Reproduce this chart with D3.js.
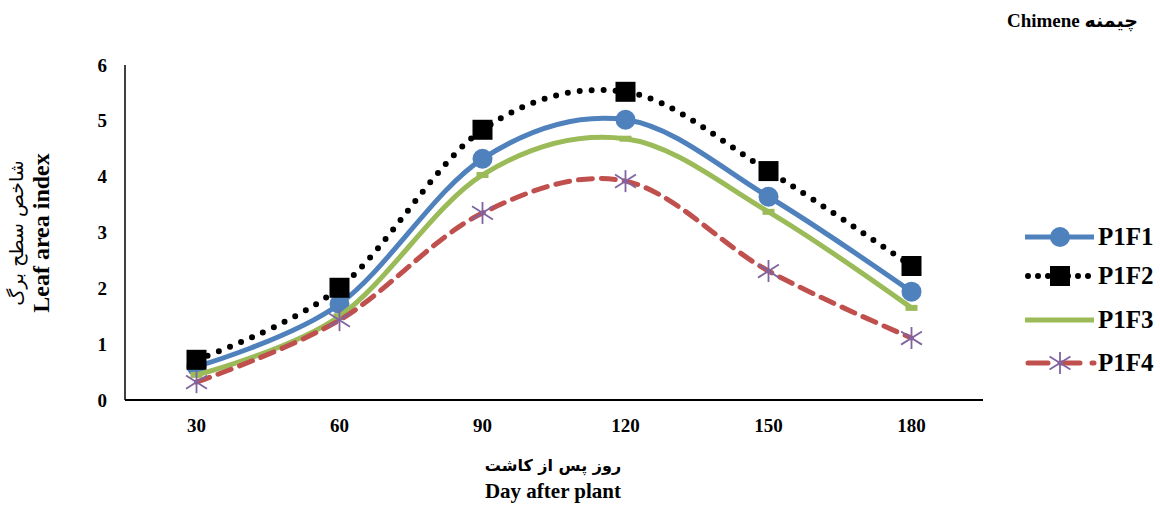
<!DOCTYPE html>
<html>
<head>
<meta charset="utf-8">
<script src="https://cdn.jsdelivr.net/npm/d3@7"></script>
<style>
  body { margin: 0; background: #fff; }
  text { font-family: "Liberation Serif", "DejaVu Sans", serif; font-weight: bold; fill: #000; }
</style>
</head>
<body>
<svg id="chart" width="1160" height="505"></svg>
<script>
// data
const days = [30, 60, 90, 120, 150, 180];
const yTicks = [0, 1, 2, 3, 4, 5, 6];
const p1f1 = [0.60, 1.72, 4.32, 5.02, 3.64, 1.94];
const p1f2 = [0.72, 2.01, 4.84, 5.52, 4.10, 2.40];
const p1f3 = [0.45, 1.50, 4.03, 4.68, 3.37, 1.65];
const p1f4 = [0.32, 1.43, 3.35, 3.92, 2.31, 1.11];
const seriesNames = ["P1F1", "P1F2", "P1F3", "P1F4"];

const marginX = 125;
const plotTop = 65, plotBottom = 400, plotRight = 983;

const svg = d3.select("#chart");

const x = d3.scaleBand().domain(days).range([marginX, plotRight]);
const y = d3.scaleLinear().domain([0, 6]).range([plotBottom, plotTop]);

const series = [
    { name: seriesNames[0], values: p1f1, color: "#4F81BD", width: 5, dash: null, cap: "butt", marker: "circle" },
    { name: seriesNames[1], values: p1f2, color: "#000", width: 6, dash: "0 12", cap: "round", marker: "square" },
    { name: seriesNames[2], values: p1f3, color: "#9BBB59", width: 5, dash: null, cap: "butt", marker: "dash" },
    { name: seriesNames[3], values: p1f4, color: "#C0504D", width: 5, dash: "14 9", cap: "round", marker: "star" }
];

// axes: plain lines, no ticks
svg.append("line")
    .attr("x1", marginX).attr("x2", marginX)
    .attr("y1", plotTop).attr("y2", plotBottom)
    .attr("stroke", "#000").attr("stroke-width", 1.5);
svg.append("line")
    .attr("x1", marginX).attr("x2", plotRight)
    .attr("y1", plotBottom).attr("y2", plotBottom)
    .attr("stroke", "#000").attr("stroke-width", 2);

svg.selectAll("text.ytick").data(yTicks).enter().append("text")
    .attr("class", "ytick")
    .attr("x", 107)
    .attr("y", d => y(d) + 6.5)
    .attr("text-anchor", "end")
    .style("font-size", "19px")
    .text(d => d);

svg.selectAll("text.xtick").data(days).enter().append("text")
    .attr("class", "xtick")
    .attr("x", d => x(d) + x.bandwidth() / 2)
    .attr("y", 432)
    .attr("text-anchor", "middle")
    .style("font-size", "19px")
    .text(d => d);

const line = d3.line()
    .x((d, i) => x(days[i]) + x.bandwidth() / 2)
    .y(d => y(d))
    .curve(d3.curveCatmullRom.alpha(0));

function drawMarker(g, type, color, cx, cy) {
    if (type == "circle") {
        g.append("circle").attr("cx", cx).attr("cy", cy).attr("r", 10).attr("fill", color);
    } else if (type == "square") {
        g.append("rect").attr("x", cx - 10).attr("y", cy - 10).attr("width", 20).attr("height", 20).attr("fill", "#000");
    } else if (type == "dash") {
        g.append("rect").attr("x", cx - 6).attr("y", cy - 3).attr("width", 12).attr("height", 6).attr("fill", color);
    } else if (type == "star") {
        const r = 11;
        const s = g.append("g").attr("stroke", "#8064A2").attr("stroke-width", 1.8);
        s.append("line").attr("x1", cx).attr("x2", cx).attr("y1", cy - r).attr("y2", cy + r);
        s.append("line").attr("x1", cx - r * 0.95).attr("x2", cx + r * 0.95).attr("y1", cy - r * 0.6).attr("y2", cy + r * 0.6);
        s.append("line").attr("x1", cx - r * 0.95).attr("x2", cx + r * 0.95).attr("y1", cy + r * 0.6).attr("y2", cy - r * 0.6);
    }
}

const main = svg.append("g");
series.forEach(s => {
    const g = main.append("g").attr("class", "series");
    g.append("path")
        .attr("d", line(s.values))
        .attr("fill", "none")
        .attr("stroke", s.color)
        .attr("stroke-width", s.width)
        .attr("stroke-linecap", s.cap)
        .attr("stroke-dasharray", s.dash);
    s.values.forEach((v, i) => drawMarker(g, s.marker, s.color, x(days[i]) + x.bandwidth() / 2, y(v)));
});

// legend
const legendY = [237, 276, 320, 363];
series.forEach((s, i) => {
    const g = svg.append("g");
    const ly = legendY[i];
    g.append("line")
        .attr("x1", s.cap == "round" ? 1028 : 1025).attr("x2", 1094)
        .attr("y1", ly).attr("y2", ly)
        .attr("stroke", s.color)
        .attr("stroke-width", s.width)
        .attr("stroke-linecap", s.cap)
        .attr("stroke-dasharray", s.dash == "0 12" ? "0 10" : (s.dash ? "20 12" : null));
    if (s.marker != "dash") drawMarker(g, s.marker, s.color, 1060, ly);
    g.append("text")
        .attr("x", 1098).attr("y", ly + 8)
        .style("font-size", "25px")
        .text(s.name);
});

// title
svg.append("text")
    .attr("x", 1138).attr("y", 27)
    .attr("text-anchor", "end")
    .style("font-size", "19px")
    .text("Chimene چیمنه");

// y axis label
const yl = svg.append("text")
    .attr("transform", "translate(0,233) rotate(-90)")
    .attr("text-anchor", "middle");
yl.append("tspan").attr("x", 0).attr("y", 23)
    .style("font-family", "'DejaVu Sans'").style("font-weight", "normal").style("font-size", "19px")
    .text("شاخص سطح برگ");
yl.append("tspan").attr("x", 0).attr("y", 49)
    .style("font-size", "24px")
    .text("Leaf area index");

// x axis label
svg.append("text")
    .attr("x", 553).attr("y", 471)
    .attr("text-anchor", "middle")
    .style("font-size", "16px")
    .style("font-family", "'DejaVu Sans'")
    .text("روز پس از کاشت");
svg.append("text")
    .attr("x", 553).attr("y", 498)
    .attr("text-anchor", "middle")
    .style("font-size", "21px")
    .text("Day after plant");
</script>
</body>
</html>
